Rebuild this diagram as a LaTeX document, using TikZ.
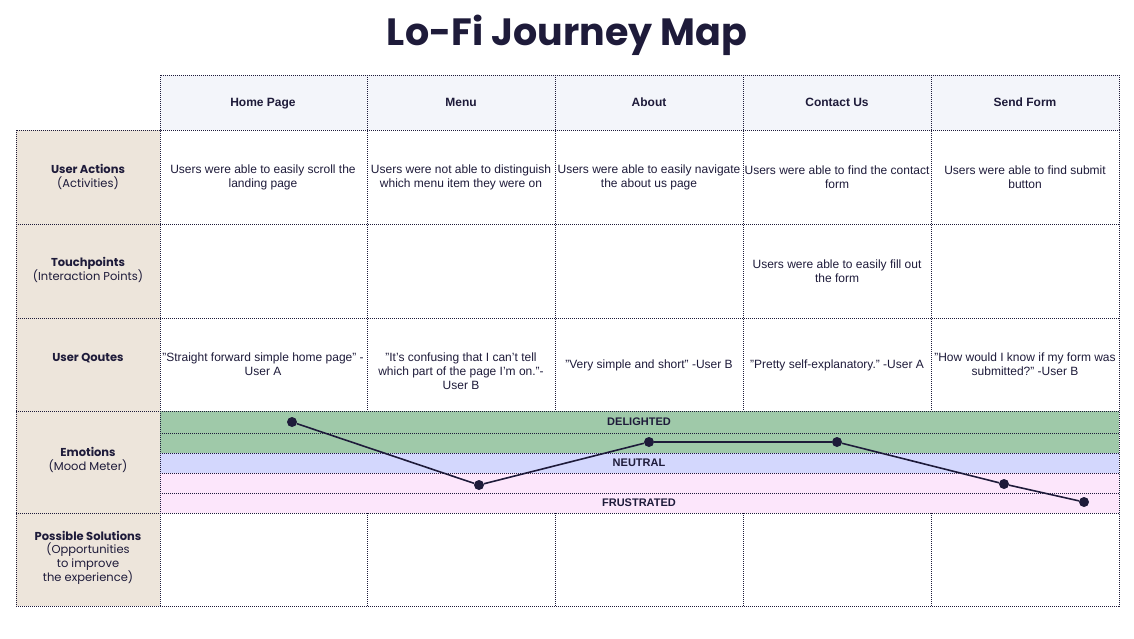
\documentclass[tikz,border=0pt]{standalone}
\usepackage{fontspec}
\setmainfont{Liberation Sans}
\newfontfamily\popfont{Poppins}
\usetikzlibrary{positioning}
\definecolor{cink}{HTML}{1E1B3A}
\definecolor{chead}{HTML}{F3F5FA}
\definecolor{clab}{HTML}{EDE5DB}
\definecolor{cgreen}{HTML}{9FC9A9}
\definecolor{cblue}{HTML}{D3D7FD}
\definecolor{cpink}{HTML}{FCE6FB}
\tikzset{
    grid/.style={draw=cink, densely dotted, line width=1pt},
    band/.style={font=\fontsize{11}{13}\selectfont\bfseries, text=cink},
    mood/.style={circle, fill=cink, inner sep=0pt, minimum size=10pt}
}
\begin{document}
\begin{tikzpicture}[x=1pt, y=-1pt]
    \useasboundingbox(0, 0) rectangle (1134, 638);
    \node[font=\popfont\fontsize{38}{42}\selectfont\bfseries, text=cink](title) at (567, 35){Lo-Fi Journey Map};
    % backgrounds
    \fill[chead](160, 75) rectangle (1119, 130);
    \fill[clab](16, 130) rectangle (160, 606);
    \fill[cgreen](160, 411) rectangle (1119, 453);
    \fill[cblue](160, 453) rectangle (1119, 473);
    \fill[cpink](160, 473) rectangle (1119, 513);
    % grid
    \draw[grid](160, 75) rectangle (1119, 130);
    \draw[grid](16, 130) rectangle (1119, 606);
    \foreach \y in {224, 318, 411, 513}
        \draw[grid](16, \y) -- (1119, \y);
    \foreach \y in {433, 453, 473, 493}
        \draw[grid](160, \y) -- (1119, \y);
    \draw[grid](160, 75) -- (160, 606);
    \foreach \x in {367, 555, 743, 931}{
        \draw[grid](\x, 75) -- (\x, 411);
        \draw[grid](\x, 513) -- (\x, 606);
    }
    % column heads
    \foreach \x/\t [count=\i] in {263/Home Page, 461/Menu, 649/About, 837/Contact Us, 1025/Send Form}
        \node[font=\fontsize{12}{14}\selectfont\bfseries, text=cink, text height=9pt, text depth=0pt](head\i) at (\x, 102){\t};
    % row labels
    \foreach \y/\t/\s [count=\i] in {177/User Actions/(Activities), 270/Touchpoints/(Interaction Points), 364/User Qoutes/, 460/Emotions/(Mood Meter)}
        \node[align=center, text=cink, font=\popfont\fontsize{11.5}{14}\selectfont](lab\i) at (88, \y){\textbf{\t}\\\s};
    \node[align=center, text=cink, font=\popfont\fontsize{11.5}{13.5}\selectfont](lab5) at (88, 558){\textbf{Possible Solutions}\\(Opportunities\\to improve\\the experience)};
    % cell texts
    \tikzset{txt/.style={align=center, text=cink, font=\fontsize{12}{14}\selectfont}}
    \node[txt](act1) at (263, 177){Users were able to easily scroll the\\landing page};
    \node[txt](act2) at (461, 177){Users were not able to distinguish\\which menu item they were on};
    \node[txt](act3) at (649, 177){Users were able to easily navigate\\the about us page};
    \node[txt](act4) at (837, 177){Users were able to find the contact\\form};
    \node[txt](act5) at (1025, 177){Users were able to find submit\\button};
    \node[txt](tch4) at (837, 271){Users were able to easily fill out\\the form};
    \node[txt](quo1) at (263, 364){"Straight forward simple home page" -\\User A};
    \node[txt](quo2) at (461, 371){"It's confusing that I can't tell\\which part of the page I'm on."-\\User B};
    \node[txt](quo3) at (649, 365){"Very simple and short" -User B};
    \node[txt](quo4) at (837, 365){"Pretty self-explanatory." -User A};
    \node[txt](quo5) at (1025, 364){"How would I know if my form was\\submitted?" -User B};
    % mood bands
    \node[band](delighted) at (639, 422){DELIGHTED};
    \node[band](neutral) at (639, 463){NEUTRAL};
    \node[band](frustrated) at (639, 503){FRUSTRATED};
    % mood line
    \node[mood](m1) at (292, 422){};
    \node[mood](m2) at (479, 485){};
    \node[mood](m3) at (649, 442){};
    \node[mood](m4) at (837, 442){};
    \node[mood](m5) at (1004, 484){};
    \node[mood](m6) at (1084, 502){};
    \draw[cink, line width=1.6pt](m1) -- (m2) -- (m3) -- (m4) -- (m5) -- (m6);
\end{tikzpicture}
\end{document}
